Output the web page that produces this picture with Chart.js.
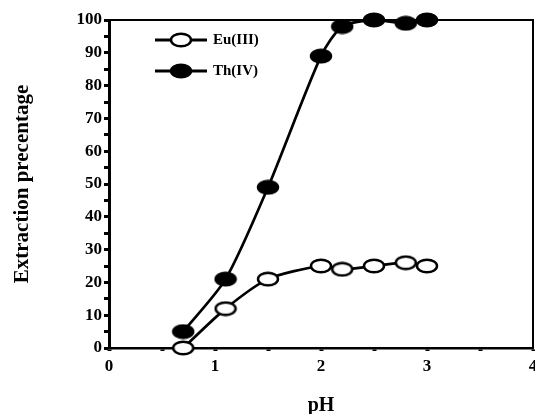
<!DOCTYPE html>
<html><head><meta charset="utf-8">
<script src="https://cdn.jsdelivr.net/npm/chart.js@4/dist/chart.umd.min.js"></script>
<style>html,body{margin:0;padding:0;background:#fff}</style>
</head><body>
<canvas id="c" width="535" height="414"></canvas>
<script>
// ---- data ----
const phEu = [0.7, 1.1, 1.5, 2.0, 2.2, 2.5, 2.8, 3.0];
const euValues = [0, 12, 21, 25, 24, 25, 26, 25];
const phTh = [0.7, 1.1, 1.5, 2.0, 2.2, 2.5, 2.8, 3.0];
const thValues = [5, 21, 49, 89, 98, 100, 99, 100];
const xTickLabels = [0, 1, 2, 3, 4];
const yTickLabels = [0, 10, 20, 30, 40, 50, 60, 70, 80, 90, 100];
const seriesLabels = ['Eu(III)', 'Th(IV)'];
const xTitle = 'pH';
const yTitle = 'Extraction precentage';

const FONT = "'Liberation Serif', 'Times New Roman', serif";

function ellipseMarker(fill) {
  const c = document.createElement('canvas');
  c.width = 24; c.height = 16;
  const g = c.getContext('2d');
  g.beginPath();
  g.ellipse(12, 8, 10, 6.3, 0, 0, Math.PI * 2);
  g.fillStyle = fill; g.fill();
  g.lineWidth = 2.5; g.strokeStyle = '#000'; g.stroke();
  return c;
}
const openMarker = ellipseMarker('#fff');
const filledMarker = ellipseMarker('#000');

const boxPlugin = {
  id: 'box',
  beforeDatasetsDraw(chart) {
    const a = chart.chartArea, ctx = chart.ctx;
    ctx.save();
    ctx.strokeStyle = '#000'; ctx.lineWidth = 2;
    ctx.beginPath();
    ctx.moveTo(a.left, a.top); ctx.lineTo(a.right, a.top); ctx.lineTo(a.right, a.bottom);
    ctx.stroke();
    ctx.restore();
  }
};

const legendPlugin = {
  id: 'customLegend',
  afterDatasetsDraw(chart) {
    const a = chart.chartArea, ctx = chart.ctx;
    ctx.save();
    chart.data.datasets.forEach((ds, i) => {
      const y = a.top + 20 + i * 31;
      const x0 = a.left + 46, x1 = a.left + 98;
      ctx.strokeStyle = '#000'; ctx.lineWidth = 3;
      ctx.beginPath(); ctx.moveTo(x0, y); ctx.lineTo(x1, y); ctx.stroke();
      ctx.drawImage(ds.pointStyle, (x0 + x1) / 2 - 12, y - 8);
      ctx.fillStyle = '#000';
      ctx.font = 'bold 15px ' + FONT;
      ctx.textBaseline = 'middle'; ctx.textAlign = 'left';
      ctx.fillText(ds.label, x1 + 6, y);
    });
    ctx.restore();
  }
};

new Chart(document.getElementById('c'), {
  type: 'line',
  data: {
    datasets: [
      {
        label: seriesLabels[0],
        data: phEu.map((x, i) => ({ x, y: euValues[i] })),
        borderColor: '#000', borderWidth: 2.7,
        pointStyle: openMarker, pointRadius: 8,
        tension: 0.25, clip: false, order: 1
      },
      {
        label: seriesLabels[1],
        data: phTh.map((x, i) => ({ x, y: thValues[i] })),
        borderColor: '#000', borderWidth: 2.7,
        pointStyle: filledMarker, pointRadius: 8,
        tension: 0.25, clip: false, order: 2
      }
    ]
  },
  options: {
    responsive: false, animation: false, devicePixelRatio: 1,
    layout: { autoPadding: false, padding: { top: 20, right: 2, left: 0, bottom: 0 } },
    plugins: { legend: { display: false }, tooltip: { enabled: false } },
    scales: {
      x: {
        type: 'linear', min: 0, max: 4,
        afterFit(s) { s.height = 66; s.paddingLeft = 0; s.paddingRight = 0; },
        ticks: {
          stepSize: 0.5, autoSkip: false, maxRotation: 0, padding: 5, color: '#000',
          font: { family: FONT, size: 17, weight: 'bold' },
          callback: v => xTickLabels.includes(v) ? String(v) : ''
        },
        grid: { drawOnChartArea: false, drawTicks: true, tickLength: 3, tickWidth: 4, color: '#000' },
        border: { display: true, color: '#000', width: 2.5 },
        title: { display: true, text: xTitle, color: '#000', padding: { top: 0, bottom: -4 },
          font: { family: FONT, size: 20, weight: 'bold' } }
      },
      y: {
        min: 0, max: 100,
        afterFit(s) { s.width = 109; s.paddingTop = 0; s.paddingBottom = 0; },
        ticks: {
          stepSize: 5, autoSkip: false, padding: 2, color: '#000',
          font: { family: FONT, size: 17, weight: 'bold' },
          callback: v => yTickLabels.includes(v) ? String(v) : ''
        },
        grid: { drawOnChartArea: false, drawTicks: true, tickLength: 5, tickWidth: 3, color: '#000' },
        border: { display: true, color: '#000', width: 3 },
        title: { display: true, text: yTitle, color: '#000', padding: { top: 10, bottom: 0 },
          font: { family: FONT, size: 21, weight: 'bold' } }
      }
    }
  },
  plugins: [boxPlugin, legendPlugin]
});
</script>
</body></html>
